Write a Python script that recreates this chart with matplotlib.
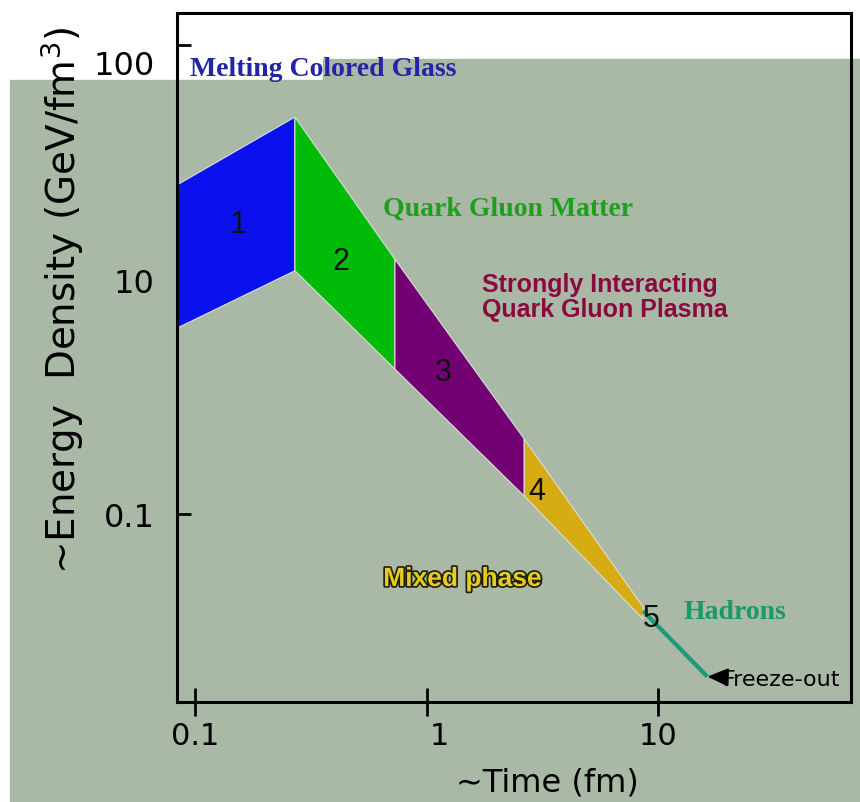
import numpy as np
import matplotlib.pyplot as plt
import matplotlib.patheffects as pe
import matplotlib.transforms as mtransforms
from matplotlib.patches import Rectangle

# stage boundaries (time in fm) and upper / lower energy density (GeV/fm^3)
stage_t = [0.0836, 0.27, 0.73, 2.64, 8.6]
upper_e = [25.3, 49.3, 12.2, 0.436, 0.0161]
lower_e = [3.85, 10.9, 1.72, 0.1425, 0.0127]
stage_colors = ['#0a10ee', '#00bb08', '#720072', '#d6ac12']
stage_names = ['1', '2', '3', '4']

hadron_t = [8.6, 16.3]
hadron_e = [0.0149, 0.0041]

x_ticks = [0.1, 1, 10]
x_labels = ['0.1', '1', '10']
y_ticks = [100, 10, 0.1]
y_labels = ['100', '10', '0.1']

bg = '#aab9a6'


def fwd(y):
    y = np.asarray(y, dtype=float)
    with np.errstate(divide='ignore', invalid='ignore'):
        ly = np.log10(np.clip(y, 1e-300, None))
    return np.where(ly >= 1, ly, 1 + (ly - 1) / 2)


def inv(u):
    u = np.asarray(u, dtype=float)
    return np.where(u >= 1, 10.0 ** u, 10.0 ** (1 + 2 * (u - 1)))


fig = plt.figure(figsize=(8.6, 8.03), dpi=100)
fig.patches.append(Rectangle((10 / 860, 0), (323 - 10) / 860, (803 - 81) / 803,
                             transform=fig.transFigure, color=bg, zorder=-2))
fig.patches.append(Rectangle((323 / 860, 0), (860 - 323) / 860, (803 - 60) / 803,
                             transform=fig.transFigure, color=bg, zorder=-2))

ax = fig.add_axes([177 / 860, 100 / 803, 674 / 860, 689 / 803])
ax.set_facecolor('none')
ax.set_xscale('log')
ax.set_yscale('function', functions=(fwd, inv))
ax.set_xlim(0.0836, 68)
ax.set_ylim(0.00249, 137)

for i in range(4):
    xs = [stage_t[i], stage_t[i + 1], stage_t[i + 1], stage_t[i]]
    ys = [upper_e[i], upper_e[i + 1], lower_e[i + 1], lower_e[i]]
    ax.fill(xs, ys, color=stage_colors[i], lw=0.8, ec='#d8e0d8', zorder=2)

ax.plot(hadron_t, hadron_e, color='#1a9a78', lw=3, solid_capstyle='butt', zorder=3)

# stage numbers
num_pos = [(0.0905, 0.694), (0.243, 0.640), (0.395, 0.479), (0.534, 0.306), (0.703, 0.122)]
for (fx, fy), s in zip(num_pos, stage_names + ['5']):
    ax.text(fx, fy, s, transform=ax.transAxes, fontsize=22, color='#101010',
            ha='center', va='center', family='Liberation Sans', zorder=5)

ax.text(0.019, 0.919, 'Melting Colored Glass', transform=ax.transAxes, fontsize=20,
        color='#2424a8', weight='bold', family='Liberation Serif', va='center')
ax.text(0.306, 0.716, 'Quark Gluon Matter', transform=ax.transAxes, fontsize=20,
        color='#1ea01e', weight='bold', family='Liberation Serif', va='center')
ax.text(0.4525, 0.588, 'Strongly Interacting\nQuark Gluon Plasma', transform=ax.transAxes,
        fontsize=18, color='#8a0a40', weight='bold', family='Liberation Sans',
        va='center', linespacing=1.05)
ax.text(0.306, 0.1785, 'Mixed phase', transform=ax.transAxes, fontsize=19,
        color='#e6cc20', weight='bold', family='Liberation Sans', va='center',
        path_effects=[pe.withStroke(linewidth=2.5, foreground='#202010')])
ax.text(0.752, 0.132, 'Hadrons', transform=ax.transAxes, fontsize=20,
        color='#1a9a6a', weight='bold', family='Liberation Serif', va='center')
ax.annotate('Freeze-out', xy=(hadron_t[-1], hadron_e[-1]), xytext=(0.81, 0.033),
            textcoords='axes fraction', fontsize=16, va='center', color='black',
            arrowprops=dict(arrowstyle='-|>,head_length=0.8,head_width=0.35',
                            color='black', lw=1.5, shrinkA=0, shrinkB=0))

ax.set_xticks(x_ticks)
ax.set_xticklabels(x_labels)
ax.set_yticks(y_ticks)
ax.set_yticklabels(y_labels)
ax.xaxis.set_minor_locator(plt.NullLocator())
ax.yaxis.set_minor_locator(plt.NullLocator())
ax.tick_params(axis='x', direction='inout', length=20, width=2, labelsize=22, pad=4)
ax.tick_params(axis='y', direction='in', length=10, width=2, labelsize=23, pad=16)
for sp in ax.spines.values():
    sp.set_linewidth(2.2)

# the scanned labels sit a little off their ticks
lab100 = ax.yaxis.get_major_ticks()[0].label1
lab100.set_transform(lab100.get_transform() +
                     mtransforms.ScaledTranslation(0, -17 / 100, fig.dpi_scale_trans))
lab1 = ax.xaxis.get_major_ticks()[1].label1
lab1.set_transform(lab1.get_transform() +
                   mtransforms.ScaledTranslation(13 / 100, 0, fig.dpi_scale_trans))

fig.text(62 / 860, 1 - 300 / 803, '~Energy  Density (GeV/fm$^3$)', rotation=90,
         ha='center', va='center', fontsize=28)
fig.text(547 / 860, 1 - 783 / 803, '\u223cTime (fm)', ha='center', va='center', fontsize=23)

fig.savefig('out.png', dpi=100)
